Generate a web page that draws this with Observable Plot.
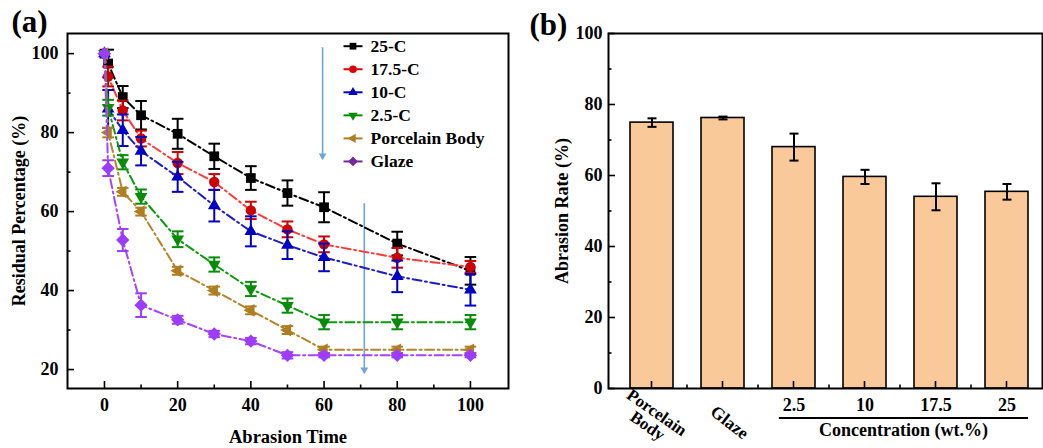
<!DOCTYPE html>
<html><head><meta charset="utf-8">
<script src="https://cdn.jsdelivr.net/npm/d3@7"></script>
<script src="https://cdn.jsdelivr.net/npm/@observablehq/plot@0.6"></script>
<style>
html,body{margin:0;padding:0;background:#fff;}
#wrap{position:relative;width:1043px;height:448px;overflow:hidden;background:#fff;}
#pa{position:absolute;left:0;top:0;}
#pb{position:absolute;left:520px;top:0;}
</style></head><body>
<div id="wrap"><div id="pa"></div><div id="pb"></div></div>
<script>
// ---------- data: panel (a) ----------
const times = [0, 1, 5, 10, 20, 30, 40, 50, 60, 80, 100];
const seriesNames = ["25-C", "17.5-C", "10-C", "2.5-C", "Porcelain Body", "Glaze"];
const val25  = [100, 97.5, 89.0, 84.4, 79.7, 74.0, 68.5, 64.7, 61.1, 51.9, 45.0];
const err25  = [0, 3.5, 2.8, 3.6, 3.8, 3.2, 3.0, 3.2, 3.8, 3.0, 3.5];
const val175 = [100, 94.2, 85.6, 78.5, 72.3, 67.5, 60.3, 55.5, 51.7, 48.3, 46.0];
const err175 = [0, 2.5, 2.5, 2.0, 2.8, 2.0, 2.2, 2.0, 2.0, 2.5, 1.5];
const val10  = [100, 86.0, 80.6, 75.3, 68.8, 61.5, 55.0, 51.5, 48.4, 43.6, 40.2];
const err10  = [0, 4.8, 4.0, 3.6, 3.8, 4.0, 3.8, 3.5, 3.5, 4.0, 4.0];
const val2_5 = [100, 86.3, 72.5, 63.8, 53.0, 46.6, 40.4, 36.2, 32.0, 32.0, 32.0];
const err2_5 = [0, 2.0, 1.8, 1.8, 2.0, 1.8, 1.8, 1.8, 1.8, 1.8, 1.8];
const valPB  = [100, 80.0, 65.0, 60.0, 45.0, 40.0, 35.0, 30.0, 25.0, 25.0, 25.0];
const errPB  = [0, 1.2, 1.0, 1.0, 1.0, 1.0, 1.0, 1.0, 0.8, 0.8, 0.8];
const valGl  = [100, 71.0, 52.8, 36.3, 32.6, 29.0, 27.2, 23.6, 23.6, 23.6, 23.6];
const errGl  = [0, 2.0, 2.8, 3.0, 1.0, 0.8, 0.8, 0.8, 0.5, 0.5, 0.5];
const xTicksA = [0, 20, 40, 60, 80, 100];
const xMinorA = [10, 30, 50, 70, 90];
const yTicksA = [20, 40, 60, 80, 100];
const yMinorA = [30, 50, 70, 90];
// annotation arrows (data coords)
const arrowX    = [59.6, 71];
const arrowFrom = [101.5, 62];
const arrowTo   = [73.4, 19.2];

// ---------- data: panel (b) ----------
const categories = ["Porcelain Body", "Glaze", "2.5", "10", "17.5", "25"];
const rates      = [74.9, 76.2, 68.0, 59.6, 54.0, 55.4];
const rateErrors = [1.2, 0.4, 3.8, 2.0, 3.8, 2.2];
const concLabels = ["2.5", "10", "17.5", "25"];
const yTicksB = [0, 20, 40, 60, 80, 100];
const yMinorB = [10, 30, 50, 70, 90];

// ---------- styles ----------
const lineColors   = ["#000000", "#ff3a3a", "#1d1dcf", "#0b9a0b", "#b5852a", "#a445ff"];
const markerColors = ["#000000", "#cc0000", "#0000c4", "#078c07", "#b07e22", "#9b3cff"];
const legendColors = ["#000000", "#dd0000", "#0000c4", "#078c07", "#b07e22", "#74289a"];
const FONT = "'Liberation Serif','Times New Roman',serif";

function tri(dir) {
  return {draw(ctx, size) {
    const r = Math.sqrt(size / Math.PI);
    const a = 2.6 * r, h = a * Math.sqrt(3) / 2;
    const t = 2 * h / 3, b = h / 3;
    if (dir === "up") { ctx.moveTo(0, -t); ctx.lineTo(a / 2, b); ctx.lineTo(-a / 2, b); }
    else if (dir === "down") { ctx.moveTo(0, t); ctx.lineTo(a / 2, -b); ctx.lineTo(-a / 2, -b); }
    else { ctx.moveTo(-t, 0); ctx.lineTo(b, -a / 2); ctx.lineTo(b, a / 2); }
    ctx.closePath();
  }};
}
const hline = {draw(ctx, size) { const r = Math.sqrt(size / Math.PI); ctx.moveTo(-r, 0); ctx.lineTo(r, 0); }};
const symbols = ["square", "circle", tri("up"), tri("down"), tri("left"), "diamond2"];
const markerR = [5.5, 5.2, 4.9, 4.9, 4.9, 6.0];
const legendR = [3.8, 3.8, 3.6, 3.6, 3.6, 4.4];

// ---------- panel (a) ----------
const WA = 520, HA = 448, mLA = 67, mRA = 12, mTA = 33, mBA = 60;
const innerWA = WA - mLA - mRA, innerHA = HA - mTA - mBA;
const marksA = [];
// arrows
const arrows = arrowX.map((x, i) => ({x, from: arrowFrom[i], to: arrowTo[i]}));
marksA.push(Plot.ruleX(arrows, {x: "x", y1: "from", y2: "to", stroke: "#6fa6d9", strokeWidth: 1.6}));
marksA.push(Plot.dot(arrows, {x: "x", y: "to", symbol: tri("down"), r: 3.0, dy: -3, fill: "#6fa6d9", stroke: "none"}));

const seriesValues = [val25, val175, val10, val2_5, valPB, valGl];
const seriesErrors = [err25, err175, err10, err2_5, errPB, errGl];
seriesNames.forEach((name, s) => {
  const rows = times.map((t, i) => ({t, v: seriesValues[s][i], e: seriesErrors[s][i]}));
  const errRows = rows.filter(d => d.e > 0);
  marksA.push(Plot.line(rows, {x: "t", y: "v", stroke: lineColors[s], strokeWidth: 2, strokeDasharray: "9,3.5,2,3.5"}));
  marksA.push(Plot.ruleX(errRows, {x: "t", y1: d => d.v - d.e, y2: d => d.v + d.e, stroke: markerColors[s], strokeWidth: 2}));
  marksA.push(Plot.dot(errRows, {x: "t", y: d => d.v - d.e, symbol: hline, r: 5.8, fill: "none", stroke: markerColors[s], strokeWidth: 2}));
  marksA.push(Plot.dot(errRows, {x: "t", y: d => d.v + d.e, symbol: hline, r: 5.8, fill: "none", stroke: markerColors[s], strokeWidth: 2}));
  marksA.push(Plot.dot(rows, {x: "t", y: "v", symbol: symbols[s], r: markerR[s], fill: markerColors[s], stroke: "none"}));
});
// inward ticks
marksA.push(Plot.ruleX(xTicksA, {x: d => d, insetTop: innerHA - 7, stroke: "black", strokeWidth: 1.6}));
marksA.push(Plot.ruleX(xMinorA, {x: d => d, insetTop: innerHA - 3.5, stroke: "black", strokeWidth: 1.6}));
marksA.push(Plot.ruleY(yTicksA, {y: d => d, insetRight: innerWA - 7, stroke: "black", strokeWidth: 1.6}));
marksA.push(Plot.ruleY(yMinorA, {y: d => d, insetRight: innerWA - 3.5, stroke: "black", strokeWidth: 1.6}));
marksA.push(Plot.frame({stroke: "black", strokeWidth: 2}));
// legend
seriesNames.forEach((name, s) => {
  const dy = 12.7 + s * 23.05;
  marksA.push(Plot.dot([name], {frameAnchor: "top-left", dx: 285.5, dy, symbol: hline, r: 9.5, fill: "none", stroke: legendColors[s], strokeWidth: 2}));
  marksA.push(Plot.dot([name], {frameAnchor: "top-left", dx: 285.5, dy, symbol: symbols[s], r: legendR[s], fill: legendColors[s], stroke: "none"}));
  marksA.push(Plot.text([name], {frameAnchor: "top-left", dx: 303, dy, text: d => d, textAnchor: "start", lineAnchor: "middle", fontSize: 17.5, fontWeight: "bold"}));
});
// titles
marksA.push(Plot.text(["Residual Percentage (%)"], {frameAnchor: "left", dx: -48, rotate: -90, text: d => d, textAnchor: "middle", lineAnchor: "middle", fontSize: 18, fontWeight: "bold"}));
marksA.push(Plot.text(["Abrasion Time"], {frameAnchor: "bottom", dy: 49, text: d => d, textAnchor: "middle", lineAnchor: "middle", fontSize: 18.5, fontWeight: "bold"}));
marksA.push(Plot.text(["(a)"], {frameAnchor: "top-left", dx: -56, dy: -2, text: d => d, textAnchor: "start", lineAnchor: "bottom", fontSize: 31, fontWeight: "bold"}));

const plotA = Plot.plot({
  width: WA, height: HA,
  marginLeft: mLA, marginRight: mRA, marginTop: mTA, marginBottom: mBA,
  style: {fontFamily: FONT, fontSize: "18px", fontWeight: "bold", color: "black", background: "white", overflow: "visible"},
  x: {domain: [-10.1, 110.4], ticks: xTicksA, tickSize: 0, tickPadding: 10, tickFormat: d => String(d), label: null},
  y: {domain: [15.2, 105.1], ticks: yTicksA, tickSize: 0, tickPadding: 9, tickFormat: d => String(d), label: null},
  marks: marksA
});
document.getElementById("pa").appendChild(plotA);

// ---------- panel (b) ----------
const WB = 523, HB = 448, mLB = 88, mRB = 1, mTB = 33, mBB = 60;
const innerHB = HB - mTB - mBB, innerWB = WB - mLB - mRB;
const bars = categories.map((c, i) => ({c, v: rates[i], e: rateErrors[i]}));

function decorB(index, scales, values, dims) {
  const sx = scales.x;
  const bw = typeof sx.bandwidth === "function" ? sx.bandwidth() : sx.bandwidth;
  const step = typeof sx.step === "function" ? sx.step() : bw / 0.605;
  const bottom = dims.height - dims.marginBottom;
  const g = d3.create("svg:g");
  categories.forEach((c, i) => {
    const cx = sx(c) + bw / 2;
    g.append("line").attr("x1", cx).attr("x2", cx).attr("y1", bottom).attr("y2", bottom - 7)
      .attr("stroke", "black").attr("stroke-width", 1.6);
    if (i < categories.length - 1) {
      const mx = sx(c) + bw + (step - bw) / 2;
      g.append("line").attr("x1", mx).attr("x2", mx).attr("y1", bottom).attr("y2", bottom - 3.5)
        .attr("stroke", "black").attr("stroke-width", 1.6);
    }
  });
  const x1 = sx(concLabels[0]) + bw * 0.16;
  const x2 = sx(concLabels[concLabels.length - 1]) + bw;
  g.append("line").attr("x1", x1).attr("x2", x2).attr("y1", bottom + 30).attr("y2", bottom + 30)
    .attr("stroke", "black").attr("stroke-width", 2);
  g.append("text").attr("x", (x1 + x2) / 2).attr("y", bottom + 42).attr("dy", "0.35em")
    .attr("text-anchor", "middle").attr("font-size", 18).attr("font-weight", "bold")
    .attr("fill", "black").text("Concentration (wt.%)");
  return g.node();
}

const marksB = [
  Plot.barY(bars, {x: "c", y: "v", fill: "#fac99a", stroke: "black", strokeWidth: 1.6}),
  Plot.ruleX(bars, {x: "c", y1: d => d.v - d.e, y2: d => d.v + d.e, stroke: "black", strokeWidth: 2}),
  Plot.dot(bars, {x: "c", y: d => d.v - d.e, symbol: hline, r: 4.5, fill: "none", stroke: "black", strokeWidth: 2}),
  Plot.dot(bars, {x: "c", y: d => d.v + d.e, symbol: hline, r: 4.5, fill: "none", stroke: "black", strokeWidth: 2}),
  Plot.ruleY(yTicksB, {y: d => d, insetRight: innerWB - 7, stroke: "black", strokeWidth: 1.6}),
  Plot.ruleY(yMinorB, {y: d => d, insetRight: innerWB - 3.5, stroke: "black", strokeWidth: 1.6}),
  Plot.frame({stroke: "black", strokeWidth: 2}),
  decorB,
  Plot.text(concLabels, {x: d => d, frameAnchor: "bottom", dy: 17, text: d => d, textAnchor: "middle", lineAnchor: "middle", fontSize: 18, fontWeight: "bold"}),
  Plot.text(["Porcelain Body"], {x: d => d, frameAnchor: "bottom", dx: 0, dy: 31, rotate: 35, text: () => "Porcelain\nBody", textAnchor: "middle", lineAnchor: "middle", lineHeight: 0.95, fontSize: 17, fontWeight: "bold"}),
  Plot.text(["Glaze"], {x: d => d, frameAnchor: "bottom", dx: 6.5, dy: 34, rotate: 38, text: d => d, textAnchor: "middle", lineAnchor: "middle", fontSize: 17.5, fontWeight: "bold"}),
  Plot.text(["Abrasion Rate (%)"], {frameAnchor: "left", dx: -46, rotate: -90, text: d => d, textAnchor: "middle", lineAnchor: "middle", fontSize: 18, fontWeight: "bold"}),
  Plot.text(["(b)"], {frameAnchor: "top-left", dx: -79, dy: 1, text: d => d, textAnchor: "start", lineAnchor: "bottom", fontSize: 31, fontWeight: "bold"})
];

const plotB = Plot.plot({
  width: WB, height: HB,
  marginLeft: mLB, marginRight: mRB, marginTop: mTB, marginBottom: mBB,
  style: {fontFamily: FONT, fontSize: "18px", fontWeight: "bold", color: "black", background: "white", overflow: "visible"},
  x: {type: "band", domain: categories, paddingInner: 0.395, paddingOuter: 0.25, align: 0.62, axis: null},
  y: {domain: [0, 100], ticks: yTicksB, tickSize: 0, tickPadding: 6, tickFormat: d => String(d), label: null},
  marks: marksB
});
document.getElementById("pb").appendChild(plotB);
</script>
</body></html>
